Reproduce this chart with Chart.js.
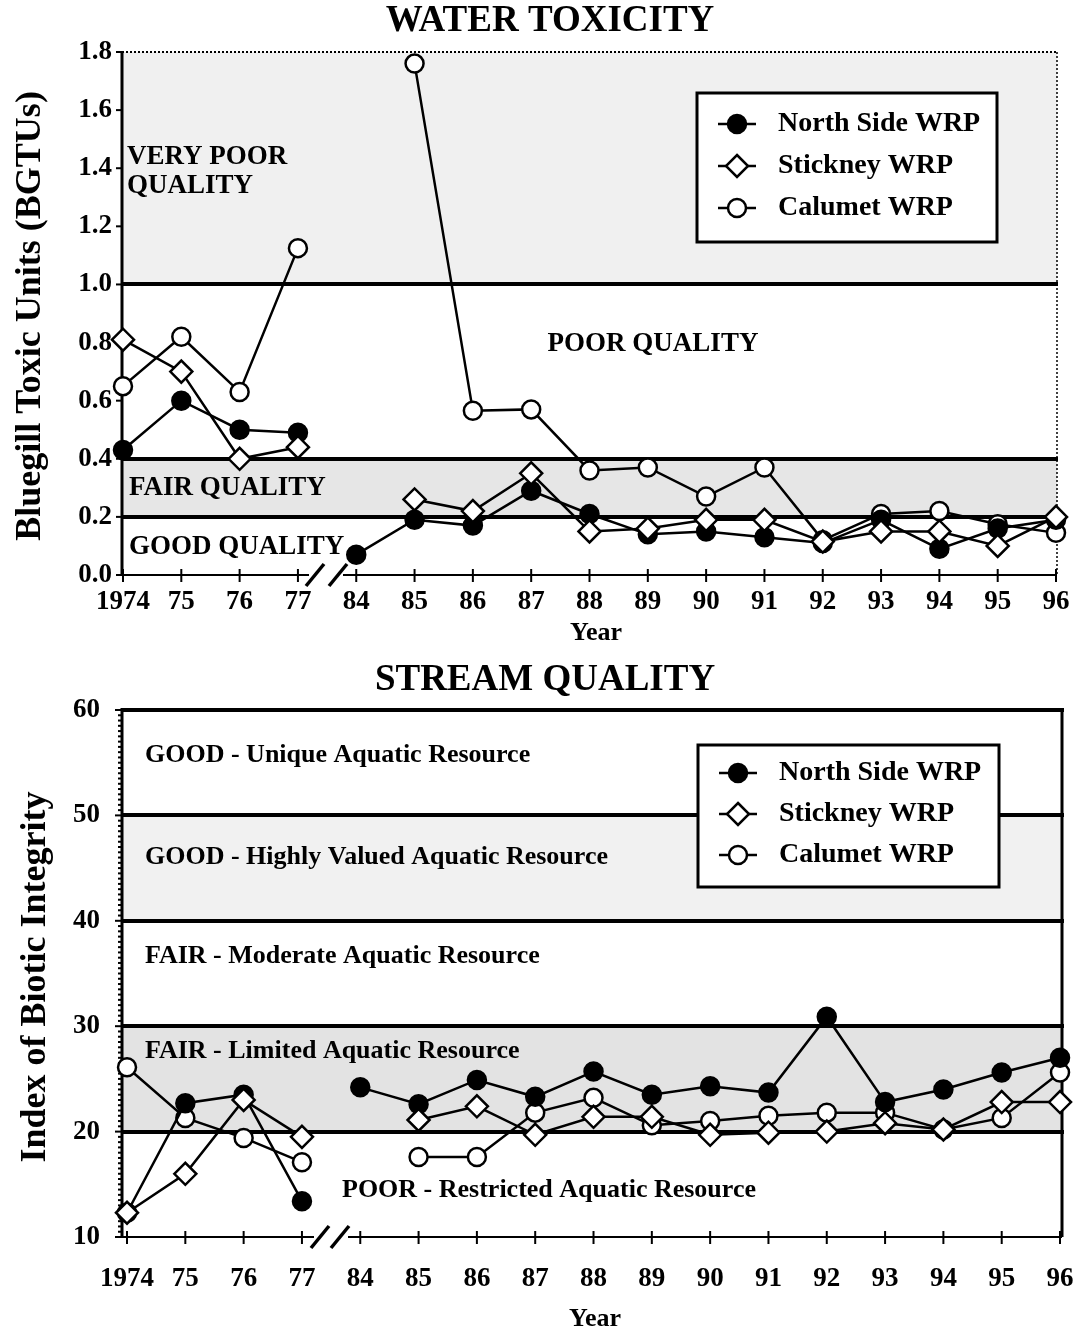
<!DOCTYPE html>
<html><head><meta charset="utf-8">
<script src="https://cdn.jsdelivr.net/npm/chart.js@4.4.0/dist/chart.umd.min.js"></script>
<style>
html,body{margin:0;padding:0;background:#fff;}
#wrap{position:relative;width:1086px;height:1332px;background:#fff;}
canvas{position:absolute;left:0;}
#c1{top:0;width:1086px;height:650px;}
#c2{top:650px;width:1086px;height:682px;}
</style></head><body>
<div id="wrap"><canvas id="c1" width="1086" height="650"></canvas><canvas id="c2" width="1086" height="682"></canvas></div>
<script>
// ---------- DATA ----------
const years = ['1974','75','76','77','84','85','86','87','88','89','90','91','92','93','94','95','96'];
const seriesNames = ['North Side WRP','Stickney WRP','Calumet WRP'];

// Water toxicity (BGTUs)
const toxNorth    = [0.43,0.60,0.50,0.49,0.07,0.19,0.17,0.29,0.21,0.14,0.15,0.13,0.11,0.19,0.09,0.16,0.19];
const toxStickney = [0.81,0.70,0.40,0.44,null,0.26,0.22,0.35,0.15,0.16,0.19,0.19,0.115,0.15,0.15,0.10,0.20];
const toxCalumet  = [0.65,0.82,0.63,1.125,null,1.76,0.565,0.57,0.36,0.37,0.27,0.37,0.12,0.21,0.22,0.175,0.145];
const toxTicks = [0,0.2,0.4,0.6,0.8,1.0,1.2,1.4,1.6,1.8];
const toxThresholds = [0.2,0.4,1.0];
const toxBandText = ['VERY POOR','QUALITY','POOR QUALITY','FAIR QUALITY','GOOD QUALITY'];

// Stream quality (IBI)
const ibiNorth    = [12.3,22.7,23.5,13.4,24.2,22.6,24.9,23.3,25.7,23.5,24.3,23.7,30.9,22.8,24.0,25.6,27.0];
const ibiStickney = [12.3,16.0,23.0,19.5,null,21.1,22.4,19.7,21.4,21.4,19.7,19.9,20.0,20.8,20.2,22.8,22.8];
const ibiCalumet  = [26.1,21.3,19.4,17.1,null,17.6,17.6,21.8,23.2,20.6,21.0,21.5,21.8,21.8,20.2,21.3,25.6];
const ibiTicks = [10,20,30,40,50,60];
const ibiThresholds = [20,30,40,50,60];
const ibiBandText = ['GOOD - Unique Aquatic Resource','GOOD - Highly Valued Aquatic Resource',
  'FAIR - Moderate Aquatic Resource','FAIR - Limited Aquatic Resource','POOR - Restricted Aquatic Resource'];

// ---------- HELPERS ----------
const FONT = '"Liberation Serif", "Times New Roman", serif';
const BREAK_AFTER = 3; // no line between 77 and 84

function pts(arr){ return arr.map((v,i)=>({x:i,y:v})); }

function mkDataset(name, arr, kind){
  const base = {
    label: name, data: pts(arr), borderColor:'#000', borderWidth:2.5, tension:0,
    spanGaps:false, pointBorderWidth:2.5, pointHoverRadius:9,
    segment:{ borderColor: c => c.p0DataIndex === BREAK_AFTER ? 'rgba(0,0,0,0)' : '#000' }
  };
  if (kind==='north') Object.assign(base,{pointStyle:'circle',pointRadius:9,pointBackgroundColor:'#000',pointBorderColor:'#000',order:1});
  if (kind==='stick') Object.assign(base,{pointStyle:'rectRot',pointRadius:11,pointBackgroundColor:'#fff',pointBorderColor:'#000',order:0});
  if (kind==='cal')   Object.assign(base,{pointStyle:'circle',pointRadius:9,pointBackgroundColor:'#fff',pointBorderColor:'#000',order:2});
  return base;
}

function drawMarker(ctx, kind, x, y){
  ctx.save();
  ctx.lineWidth = 2.5; ctx.strokeStyle = '#000';
  ctx.beginPath();
  if (kind==='stick'){
    const r=11; ctx.moveTo(x,y-r); ctx.lineTo(x+r,y); ctx.lineTo(x,y+r); ctx.lineTo(x-r,y); ctx.closePath();
    ctx.fillStyle='#fff';
  } else {
    ctx.arc(x,y,9,0,Math.PI*2);
    ctx.fillStyle = kind==='north' ? '#000' : '#fff';
  }
  ctx.fill(); ctx.stroke();
  ctx.restore();
}

function text(ctx, s, x, y, size, align){
  ctx.font = 'bold '+size+'px '+FONT;
  ctx.fillStyle = '#000';
  ctx.textAlign = align || 'left';
  ctx.textBaseline = 'middle';
  ctx.fillText(s, x, y);
}

function slash(ctx, cx, cy){
  ctx.beginPath(); ctx.moveTo(cx-9, cy+11); ctx.lineTo(cx+9, cy-11); ctx.stroke();
}

function legendPlugin(box){
  return {
    id:'boxLegend',
    afterDatasetsDraw(chart){
      const ctx = chart.ctx; ctx.save();
      ctx.fillStyle='#fff'; ctx.fillRect(box.x, box.y, box.w, box.h);
      ctx.lineWidth=3; ctx.strokeStyle='#000'; ctx.strokeRect(box.x, box.y, box.w, box.h);
      const kinds=['north','stick','cal'];
      seriesNames.forEach((n,i)=>{
        const yy = box.y + box.row0 + i*box.dy;
        ctx.lineWidth=2.5; ctx.beginPath(); ctx.moveTo(box.x+21,yy); ctx.lineTo(box.x+59,yy); ctx.stroke();
        drawMarker(ctx, kinds[i], box.x+40, yy);
        text(ctx, n, box.x+81, yy, 28, 'left');
      });
      ctx.restore();
    }
  };
}

function fitX(h){ return s=>{ s.height=h; s.paddingLeft=0; s.paddingRight=0; }; }
function fitY(w){ return s=>{ s.width=w; s.paddingTop=0; s.paddingBottom=0; }; }

// ---------- TOP CHART ----------
const topDecor = {
  id:'topDecor',
  beforeDatasetsDraw(chart){
    const {ctx, chartArea:a, scales:{x,y}} = chart;
    ctx.save();
    // shaded bands
    ctx.fillStyle='#f0f0f0';
    let y1=y.getPixelForValue(1.8), y2=y.getPixelForValue(1.0);
    ctx.fillRect(a.left,y1,a.right-a.left,y2-y1);
    ctx.fillStyle='#e6e6e6';
    y1=y.getPixelForValue(0.4); y2=y.getPixelForValue(0.2);
    ctx.fillRect(a.left,y1,a.right-a.left,y2-y1);
    // band labels
    text(ctx, toxBandText[0], a.left+5, y.getPixelForValue(1.44), 27);
    text(ctx, toxBandText[1], a.left+5, y.getPixelForValue(1.34), 27);
    text(ctx, toxBandText[2], 653, y.getPixelForValue(0.795), 27, 'center');
    text(ctx, toxBandText[3], a.left+7, y.getPixelForValue(0.30), 27);
    text(ctx, toxBandText[4], a.left+7, y.getPixelForValue(0.095), 27);
    // threshold lines
    ctx.strokeStyle='#000'; ctx.lineWidth=4;
    toxThresholds.forEach(v=>{ const p=Math.round(y.getPixelForValue(v)); ctx.beginPath(); ctx.moveTo(a.left,p); ctx.lineTo(a.right+1,p); ctx.stroke(); });
    // dotted top & right border
    ctx.lineWidth=2; ctx.setLineDash([2,2]);
    ctx.beginPath(); ctx.moveTo(a.left,a.top); ctx.lineTo(a.right,a.top); ctx.stroke();
    ctx.lineWidth=1.5;
    ctx.beginPath(); ctx.moveTo(a.right,a.top); ctx.lineTo(a.right,a.bottom); ctx.stroke();
    ctx.setLineDash([]);
    // axes
    ctx.lineWidth=3;
    ctx.beginPath(); ctx.moveTo(a.left,a.top-1); ctx.lineTo(a.left,a.bottom+1); ctx.stroke();
    ctx.lineWidth=2;
    ctx.beginPath(); ctx.moveTo(a.left,a.bottom); ctx.lineTo(a.right,a.bottom); ctx.stroke();
    // x tick marks
    years.forEach((_,i)=>{ const p=x.getPixelForValue(i); ctx.beginPath(); ctx.moveTo(p,a.bottom-6); ctx.lineTo(p,a.bottom+7); ctx.stroke(); });
    // y tick marks
    toxTicks.forEach(v=>{ const p=y.getPixelForValue(v); ctx.beginPath(); ctx.moveTo(a.left-6,p); ctx.lineTo(a.left,p); ctx.stroke(); });
    // axis break
    ctx.fillStyle='#fff'; ctx.fillRect(309, a.bottom-3, 34, 6);
    ctx.lineWidth=3.5; slash(ctx, 315, a.bottom); slash(ctx, 338, a.bottom);
    ctx.restore();
  },
  afterDraw(chart){
    const ctx=chart.ctx; ctx.save();
    text(ctx,'WATER TOXICITY',550,21,37,'center');
    text(ctx,'Year',596,633,26,'center');
    ctx.translate(31,316); ctx.rotate(-Math.PI/2);
    text(ctx,'Bluegill Toxic Units (BGTUs)',0,0,36,'center');
    ctx.restore();
  }
};

new Chart(document.getElementById('c1'), {
  type:'line',
  data:{ datasets:[ mkDataset(seriesNames[0],toxNorth,'north'), mkDataset(seriesNames[1],toxStickney,'stick'), mkDataset(seriesNames[2],toxCalumet,'cal') ] },
  options:{
    responsive:false, animation:false, devicePixelRatio:1,
    layout:{ padding:{ top:52, right:29, left:0, bottom:0 } },
    plugins:{ legend:{display:false}, title:{display:false}, tooltip:{enabled:false} },
    clip:false,
    scales:{
      x:{ type:'linear', min:-0.017, max:16.017,
          afterFit:fitX(75),
          afterBuildTicks:s=>{ s.ticks = years.map((_,i)=>({value:i})); },
          grid:{display:false, drawTicks:false}, border:{display:false},
          ticks:{ padding:11, color:'#000', font:{family:FONT, size:27, weight:'bold'}, maxRotation:0, autoSkip:false,
                  callback:v=>years[v] } },
      y:{ type:'linear', min:0, max:1.8,
          afterFit:fitY(122),
          afterBuildTicks:s=>{ s.ticks = toxTicks.map(v=>({value:v})); },
          grid:{display:false, drawTicks:false}, border:{display:false},
          ticks:{ padding:10, color:'#000', font:{family:FONT, size:27, weight:'bold'}, callback:v=>Number(v).toFixed(1) } }
    }
  },
  plugins:[topDecor, legendPlugin({x:697,y:93,w:300,h:149,row0:31,dy:42})]
});

// ---------- BOTTOM CHART ----------
const botDecor = {
  id:'botDecor',
  beforeDatasetsDraw(chart){
    const {ctx, chartArea:a, scales:{x,y}} = chart;
    ctx.save();
    ctx.fillStyle='#f1f1f1';
    let y1=y.getPixelForValue(50), y2=y.getPixelForValue(40);
    ctx.fillRect(a.left,y1,a.right-a.left,y2-y1);
    ctx.fillStyle='#e3e3e3';
    y1=y.getPixelForValue(30); y2=y.getPixelForValue(20);
    ctx.fillRect(a.left,y1,a.right-a.left,y2-y1);
    // band labels
    text(ctx, ibiBandText[0], 145, y.getPixelForValue(55.7), 26);
    text(ctx, ibiBandText[1], 145, y.getPixelForValue(46.0), 26);
    text(ctx, ibiBandText[2], 145, y.getPixelForValue(36.6), 26);
    text(ctx, ibiBandText[3], 145, y.getPixelForValue(27.6), 26);
    text(ctx, ibiBandText[4], 342, y.getPixelForValue(14.4), 26);
    // threshold lines
    ctx.strokeStyle='#000'; ctx.lineWidth=4;
    ibiThresholds.forEach(v=>{ const p=Math.round(y.getPixelForValue(v)); ctx.beginPath(); ctx.moveTo(a.left,p); ctx.lineTo(a.right+2,p); ctx.stroke(); });
    // right border
    ctx.lineWidth=3;
    ctx.beginPath(); ctx.moveTo(a.right,a.top); ctx.lineTo(a.right,a.bottom); ctx.stroke();
    // left axis
    ctx.beginPath(); ctx.moveTo(a.left,a.top-2); ctx.lineTo(a.left,a.bottom+1); ctx.stroke();
    ctx.lineWidth=2;
    for(let v=10; v<=60.001; v+=0.5){ const p=y.getPixelForValue(v); ctx.beginPath(); ctx.moveTo(a.left-(v%10===0?7:4),p); ctx.lineTo(a.left,p); ctx.stroke(); }
    // bottom axis
    ctx.beginPath(); ctx.moveTo(a.left,a.bottom); ctx.lineTo(a.right,a.bottom); ctx.stroke();
    years.forEach((_,i)=>{ const p=x.getPixelForValue(i); ctx.beginPath(); ctx.moveTo(p,a.bottom-6); ctx.lineTo(p,a.bottom+7); ctx.stroke(); });
    ctx.fillStyle='#fff'; ctx.fillRect(314, a.bottom-3, 34, 6);
    ctx.lineWidth=3.5; slash(ctx, 320, a.bottom); slash(ctx, 340, a.bottom);
    ctx.restore();
  },
  afterDraw(chart){
    const ctx=chart.ctx; ctx.save();
    text(ctx,'STREAM QUALITY',545,30,37,'center');
    text(ctx,'Year',595,669,26,'center');
    ctx.translate(36,327); ctx.rotate(-Math.PI/2);
    text(ctx,'Index of Biotic Integrity',0,0,36,'center');
    ctx.restore();
  }
};

new Chart(document.getElementById('c2'), {
  type:'line',
  data:{ datasets:[ mkDataset(seriesNames[0],ibiNorth,'north'), mkDataset(seriesNames[1],ibiStickney,'stick'), mkDataset(seriesNames[2],ibiCalumet,'cal') ] },
  options:{
    responsive:false, animation:false, devicePixelRatio:1,
    layout:{ padding:{ top:60, right:24, left:0, bottom:0 } },
    plugins:{ legend:{display:false}, title:{display:false}, tooltip:{enabled:false} },
    clip:false,
    scales:{
      x:{ type:'linear', min:-0.086, max:16.034,
          afterFit:fitX(95),
          afterBuildTicks:s=>{ s.ticks = years.map((_,i)=>({value:i})); },
          grid:{display:false, drawTicks:false}, border:{display:false},
          ticks:{ padding:26, color:'#000', font:{family:FONT, size:27, weight:'bold'}, maxRotation:0, autoSkip:false,
                  callback:v=>years[v] } },
      y:{ type:'linear', min:10, max:60,
          afterFit:fitY(122),
          afterBuildTicks:s=>{ s.ticks = ibiTicks.map(v=>({value:v})); },
          grid:{display:false, drawTicks:false}, border:{display:false},
          ticks:{ padding:22, color:'#000', font:{family:FONT, size:27, weight:'bold'}, callback:v=>String(v) } }
    }
  },
  plugins:[botDecor, legendPlugin({x:698,y:95,w:301,h:142,row0:28,dy:41})]
});
</script>
</body></html>
